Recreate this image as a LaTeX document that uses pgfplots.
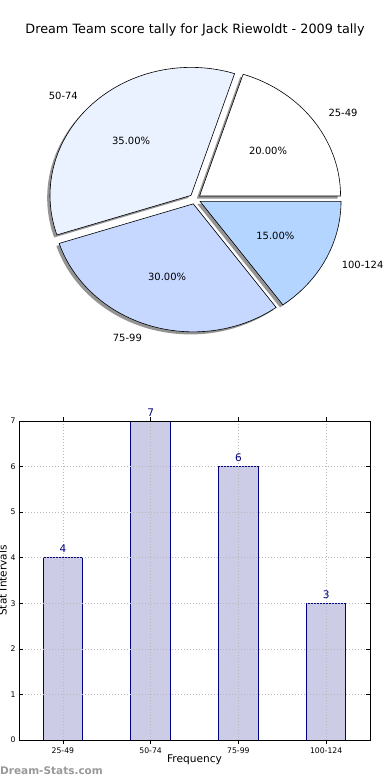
\documentclass[border=0pt]{standalone}
\usepackage{fontspec}
\setmainfont{DejaVu Sans}
\usepackage{pgfplots}
\pgfplotsset{compat=1.18}
\definecolor{s1}{RGB}{255,255,255}
\definecolor{s2}{RGB}{234,241,255}
\definecolor{s3}{RGB}{198,216,255}
\definecolor{s4}{RGB}{179,213,255}
\definecolor{barfill}{RGB}{204,204,230}
\definecolor{baredge}{RGB}{0,0,128}

% #1 start angle, #2 end angle, #3 explode fraction
\newcommand\pieshadow[3]{%
  \pgfmathsetmacro\psx{#3*cos((#1+#2)/2)-0.02}%
  \pgfmathsetmacro\psy{#3*sin((#1+#2)/2)-0.02}%
  \edef\pietmp{%
    \noexpand\addplot[draw=none, fill=black!42, domain=#1:#2, samples=90]
      ({\psx+cos(x)},{\psy+sin(x)}) -- (axis cs:\psx,\psy) -- cycle;
  }\pietmp
}
% #1 start angle, #2 end angle, #3 explode fraction, #4 colour
\newcommand\piewedge[4]{%
  \pgfmathsetmacro\pcx{#3*cos((#1+#2)/2)}%
  \pgfmathsetmacro\pcy{#3*sin((#1+#2)/2)}%
  \edef\pietmp{%
    \noexpand\addplot[draw=black, line width=0.6bp, fill=#4, domain=#1:#2, samples=90]
      ({\pcx+cos(x)},{\pcy+sin(x)}) -- (axis cs:\pcx,\pcy) -- cycle;
  }\pietmp
}

\begin{document}
\begin{tikzpicture}
\path[use as bounding box, fill=white] (0,0) rectangle (390bp,780bp);

\node[font=\fontsize{12.8bp}{14bp}\selectfont] at (195bp,750bp) {Dream Team score tally for Jack Riewoldt - 2009 tally};

% ---------- pie: 20, 35, 30, 15 percent ----------
\begin{axis}[
  x=141bp, y=128bp,
  xmin=-1.3, xmax=1.3, ymin=-1.2, ymax=1.2,
  hide axis, clip=false,
  at={(195bp,581bp)}, anchor=origin,
  every node/.style={font=\fontsize{10.5bp}{12bp}\selectfont},
]
% angles: 0-72 (20%), 72-198 (35%), 198-306 (30%), 306-360 (15%)
\pieshadow{0}{72}{0.04}
\pieshadow{72}{198}{0.04}
\pieshadow{198}{306}{0.04}
\pieshadow{306}{360}{0.04}
\piewedge{0}{72}{0.04}{s1}
\piewedge{72}{198}{0.04}{s2}
\piewedge{198}{306}{0.04}{s3}
\piewedge{306}{360}{0.04}{s4}
\node[anchor=west] at (axis cs:0.922,0.670) {25-49};
\node[anchor=east] at (axis cs:-0.806,0.806) {50-74};
\node[anchor=east] at (axis cs:-0.352,-1.084) {75-99};
\node[anchor=west] at (axis cs:1.016,-0.517) {100-124};
\node at (axis cs:0.518,0.376) {20.00\%};
\node at (axis cs:-0.453,0.453) {35.00\%};
\node at (axis cs:-0.198,-0.609) {30.00\%};
\node at (axis cs:0.570,-0.291) {15.00\%};
\end{axis}

% ---------- bar chart ----------
\begin{axis}[
  at={(19bp,40bp)}, anchor=south west,
  scale only axis, width=351bp, height=319bp,
  xmin=-0.5, xmax=3.5, ymin=0, ymax=7,
  xtick={0,1,2,3}, xticklabels={25-49,50-74,75-99,100-124},
  ytick={0,1,2,3,4,5,6,7},
  /pgf/number format/assume math mode=true,
  tick label style={font=\fontsize{7.7bp}{9bp}\selectfont},
  major tick length=4bp,
  tick style={black, line width=0.5bp},
  axis line style={black, line width=0.9bp},
  grid=major,
  grid style={gray!55, line width=0.7bp, dash pattern=on 1bp off 2bp},
  axis on top,
  clip=false,
  ybar, bar width=39.5bp,
  nodes near coords,
  every node near coord/.append style={font=\fontsize{10.5bp}{12bp}\selectfont, text=baredge, yshift=1bp},
]
\addplot[fill=barfill, draw=baredge, line width=0.8bp] coordinates {(0,4) (1,7) (2,6) (3,3)};
\end{axis}

\node[font=\fontsize{10.6bp}{12bp}\selectfont] at (194.5bp,20bp) {Frequency};
\node[rotate=90, anchor=base, font=\fontsize{10.5bp}{12bp}\selectfont] at (6.5bp,199.5bp) {Stat Intervals};
\node[anchor=west, inner sep=0pt, text=black!40, font=\bfseries\fontsize{10.5bp}{12bp}\selectfont] at (0bp,9bp) {Dream-Stats.com};
\end{tikzpicture}
\end{document}
